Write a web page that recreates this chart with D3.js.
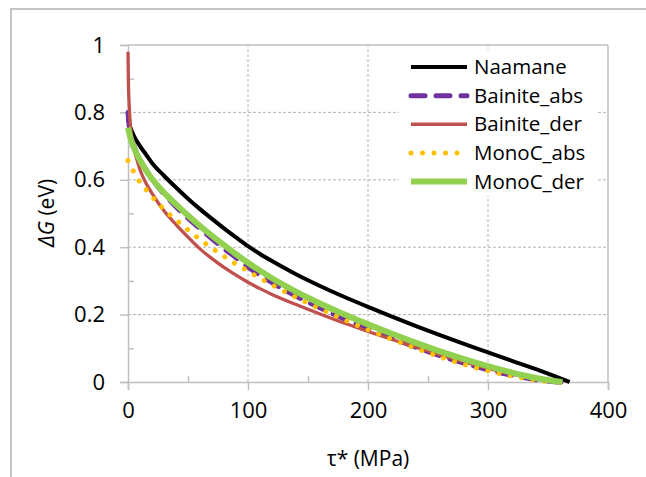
<!DOCTYPE html>
<html><head><meta charset="utf-8">
<script src="https://cdn.jsdelivr.net/npm/d3@7"></script>
<style>html,body{margin:0;padding:0;background:#fff;}svg{display:block;font-family:"Open Sans",sans-serif;}</style>
</head><body>
<script>
// ---- data ----
const xTicks = [0, 100, 200, 300, 400];
const yTicks = [0, 0.2, 0.4, 0.6, 0.8, 1];
const seriesNames = ["Naamane", "Bainite_abs", "Bainite_der", "MonoC_abs", "MonoC_der"];

const naamaneTau = [0,2,5,10,15,20,30,40,50,60,70,80,90,100,110,120,130,140,150,160,180,200,220,240,260,280,300,320,340,355,368];
const naamaneG   = [0.78,0.755,0.73,0.70,0.675,0.65,0.612,0.577,0.544,0.513,0.484,0.456,0.429,0.403,0.380,0.359,0.339,0.320,0.302,0.285,0.253,0.223,0.194,0.166,0.139,0.113,0.088,0.063,0.038,0.018,0];

const bainiteAbsTau = [0,1,2,5,10,15,20,30,40,50,60,70,80,90,100,120,140,160,180,200,220,240,260,280,300,320,340,355,362];
const bainiteAbsG   = [0.80,0.76,0.735,0.70,0.66,0.63,0.603,0.558,0.52,0.486,0.455,0.425,0.396,0.369,0.341,0.295,0.255,0.22,0.188,0.158,0.13,0.103,0.078,0.056,0.036,0.02,0.007,0.001,0];

const bainiteDerTau = [0,0.3,1,2,4,7,10,15,20,30,40,50,60,70,80,90,100,110,120,140,160,180,200,220,240,260,280,300,320,340,355,362];
const bainiteDerG   = [0.98,0.9,0.82,0.76,0.71,0.665,0.63,0.59,0.56,0.508,0.467,0.43,0.395,0.366,0.340,0.317,0.296,0.277,0.260,0.230,0.202,0.175,0.150,0.126,0.103,0.081,0.060,0.040,0.023,0.009,0.002,0];

const monoCAbsTau = [0,5,10,17,24,31,40,50,60,70,80,90,100,110,120,135,150,170,200,230,250,270,290,310,330,345,352];
const monoCAbsG   = [0.657,0.622,0.593,0.563,0.534,0.509,0.481,0.451,0.423,0.397,0.373,0.35,0.329,0.308,0.288,0.26,0.234,0.201,0.155,0.113,0.087,0.063,0.042,0.025,0.011,0.003,0];

const monoCDerTau = [0,2,5,10,15,20,30,40,50,60,70,80,90,100,120,140,160,180,200,220,240,260,280,300,320,340,355,362];
const monoCDerG   = [0.755,0.725,0.695,0.658,0.628,0.603,0.562,0.527,0.494,0.463,0.434,0.406,0.379,0.354,0.308,0.268,0.233,0.201,0.171,0.143,0.116,0.091,0.068,0.047,0.028,0.012,0.003,0];

// ---- layout ----
const W = 646, H = 477;
const svg = d3.select("body").append("svg").attr("width", W).attr("height", H);
const x = d3.scaleLinear().domain([0, 400]).range([128, 608]);
const y = d3.scaleLinear().domain([0, 1]).range([382, 45]);

// outer frame
svg.append("rect").attr("x", 11).attr("y", 9).attr("width", 700).attr("height", 600)
  .attr("fill", "none").attr("stroke", "#c4c4c4").attr("stroke-width", 2);

const gridC = "#b4b4b4", axisC = "#c0c0c0";
// gridlines
svg.append("g").selectAll("line").data(yTicks.filter(v => v > 0 && v < 1)).join("line")
  .attr("x1", x(0)).attr("x2", x(400)).attr("y1", d => y(d)).attr("y2", d => y(d))
  .attr("stroke", gridC).attr("stroke-dasharray", "3,2").attr("stroke-width", 1);
svg.append("g").selectAll("line").data(xTicks.filter(v => v > 0 && v < 400)).join("line")
  .attr("y1", y(0)).attr("y2", y(1)).attr("x1", d => x(d)).attr("x2", d => x(d))
  .attr("stroke", gridC).attr("stroke-dasharray", "3,2").attr("stroke-width", 1);
// top/right border
svg.append("line").attr("x1", x(0)).attr("x2", x(400)).attr("y1", y(1)).attr("y2", y(1)).attr("stroke", axisC).attr("stroke-width", 1.5);
svg.append("line").attr("x1", x(400)).attr("x2", x(400)).attr("y1", y(1)).attr("y2", y(0)).attr("stroke", axisC).attr("stroke-width", 1.5);

// axes
const xAxis = d3.axisBottom(x).tickValues(xTicks).tickSize(8).tickPadding(12).tickFormat(d3.format("d"));
const gx = svg.append("g").attr("transform", `translate(0,${y(0)})`).call(xAxis);
const yAxis = d3.axisLeft(y).tickValues(yTicks).tickSize(8).tickPadding(15).tickFormat(d => d === 0 || d === 1 ? String(d) : d3.format(".1f")(d));
const gy = svg.append("g").attr("transform", `translate(${x(0)},0)`).call(yAxis);
[gx, gy].forEach(g => {
  g.select(".domain").attr("stroke", axisC).attr("stroke-width", 1.5);
  g.selectAll(".tick line").attr("stroke", axisC).attr("stroke-width", 1.5);
  g.selectAll(".tick text").attr("fill", "#000").style("font-size", "22px").style("font-family", "'Open Sans',sans-serif");
});
// minor ticks (inside)
const xMinor = d3.axisTop(x).tickValues([50, 150, 250, 350]).tickSize(6).tickFormat("");
const gxm = svg.append("g").attr("transform", `translate(0,${y(0)})`).call(xMinor);
const yMinor = d3.axisRight(y).tickValues([0.1, 0.3, 0.5, 0.7, 0.9]).tickSize(6).tickFormat("");
const gym = svg.append("g").attr("transform", `translate(${x(0)},0)`).call(yMinor);
[gxm, gym].forEach(g => { g.select(".domain").remove(); g.selectAll(".tick line").attr("stroke", axisC).attr("stroke-width", 1.5); });

// axis titles
const yl = svg.append("text").attr("transform", `translate(54,213) rotate(-90)`).attr("text-anchor", "middle")
  .style("font-size", "21px").attr("fill", "#000");
yl.append("tspan").style("font-style", "italic").text("ΔG");
yl.append("tspan").text(" (eV)");
svg.append("text").attr("x", 368).attr("y", 466).attr("text-anchor", "middle").style("font-size", "21px").attr("fill", "#000").text("τ* (MPa)");

// series
const styles = [
  {c: "#000000", w: 4, dash: null},
  {c: "#7030A0", w: 5, dash: "14,11"},
  {c: "#C0504D", w: 3.3, dash: null},
  {c: "#FFC000", w: 5, dash: "0.01,11.5"},
  {c: "#92D050", w: 6, dash: null}
];
const data = [
  d3.zip(naamaneTau, naamaneG),
  d3.zip(bainiteAbsTau, bainiteAbsG),
  d3.zip(bainiteDerTau, bainiteDerG),
  d3.zip(monoCAbsTau, monoCAbsG),
  d3.zip(monoCDerTau, monoCDerG)
];
const line = d3.line().x(d => x(d[0])).y(d => y(d[1])).curve(d3.curveMonotoneX);
data.forEach((ser, i) => {
  const s = styles[i];
  svg.append("path").attr("d", line(ser)).attr("fill", "none").attr("stroke", s.c)
    .attr("stroke-width", s.w).attr("stroke-linecap", s.dash ? "round" : "butt").attr("stroke-linejoin", "round")
    .attr("stroke-dasharray", s.dash);
});

// legend
const lg = svg.append("g");
lg.append("rect").attr("x", 399).attr("y", 50).attr("width", 198).attr("height", 146).attr("fill", "#fff");
const rowY = d3.scalePoint().domain(seriesNames).range([67, 181.5]);
seriesNames.forEach((n, i) => {
  const s = styles[i];
  lg.append("line").attr("x1", 411).attr("x2", 467).attr("y1", rowY(n)).attr("y2", rowY(n))
    .attr("stroke", s.c).attr("stroke-width", s.w).attr("stroke-linecap", s.dash ? "round" : "butt")
    .attr("stroke-dasharray", s.dash);
  lg.append("text").attr("x", 474).attr("y", rowY(n)).attr("dy", "0.35em").style("font-size", "20.5px").attr("fill", "#000").text(n);
});
</script>
</body></html>
